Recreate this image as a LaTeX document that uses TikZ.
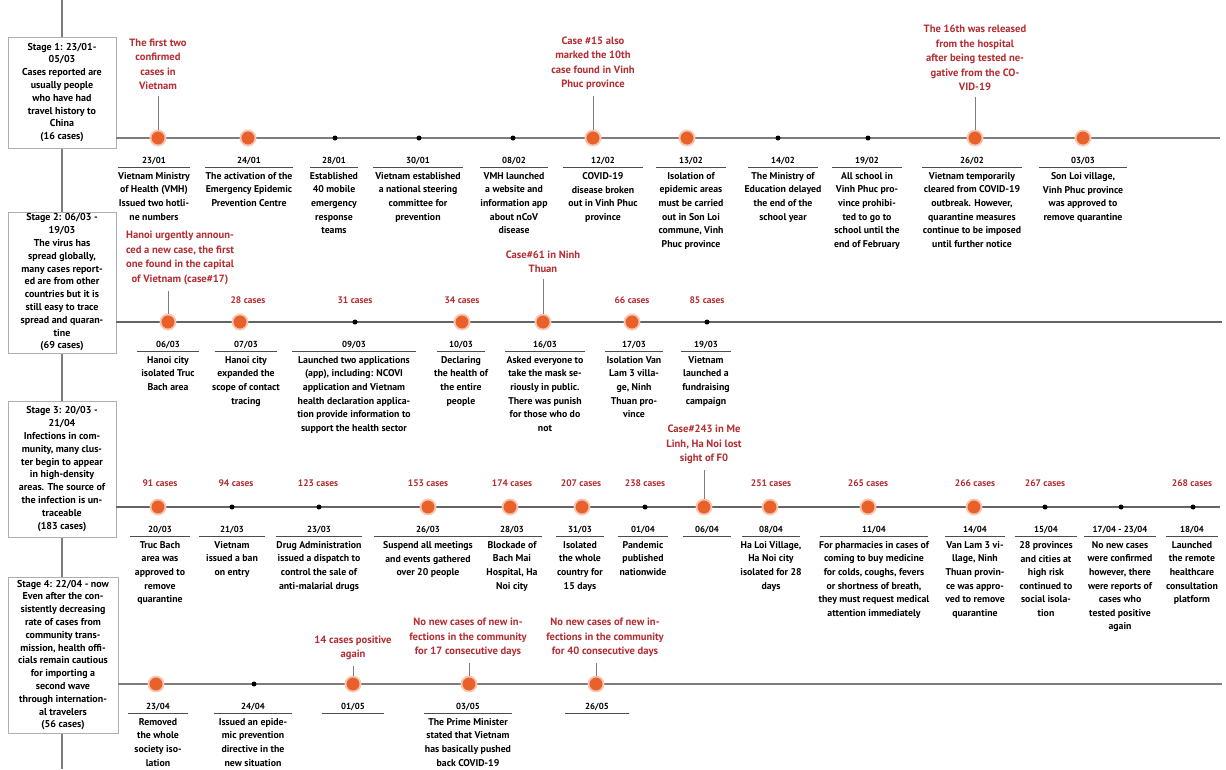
\documentclass[tikz,border=0pt]{standalone}
\usepackage{fontspec}
\setmainfont{PT Sans}
\usetikzlibrary{positioning}
\definecolor{dotorange}{RGB}{232,96,42}
\definecolor{notered}{RGB}{180,45,50}
\definecolor{linegray}{RGB}{125,125,125}
\definecolor{boxgray}{RGB}{175,175,175}
\tikzset{
  bigdot/.style={circle, fill=dotorange, draw=dotorange!35, line width=1.8pt, minimum size=15pt, inner sep=0pt},
  smalldot/.style={circle, fill=black, minimum size=5pt, inner sep=0pt},
  datelabel/.style={anchor=base, text depth=0pt, inner xsep=0pt, inner ysep=4pt, font=\fontsize{8.8}{10}\selectfont\bfseries},
  desclabel/.style={align=center, inner sep=0pt, font=\fontsize{9.8}{13.6}\selectfont\bfseries},
  underline/.style={draw=black!70, line width=0.9pt},
  note/.style={align=center, anchor=south, text=notered, inner sep=0pt, font=\fontsize{10.6}{14.5}\selectfont\bfseries},
  cases/.style={text=notered, inner sep=0pt, font=\fontsize{9.5}{10}\selectfont\bfseries},
  stem/.style={draw=linegray, line width=1pt, shorten <=6pt},
  spine/.style={draw=linegray, line width=1.6pt},
  thickline/.style={draw=linegray, line width=2.6pt},
  thinline/.style={draw=linegray!80!black, line width=1.4pt},
  stagebox/.style={draw=boxgray, fill=white, line width=0.8pt, align=center, inner sep=0pt, font=\fontsize{10}{12.8}\selectfont\bfseries},
}
\newcommand{\tlevent}[8]{%
  \node[#4] (#1) at (#2,#3) {};
  \node[datelabel, minimum width=#7] (#1-date) at (#6,#3+25) {#5};
  \draw[underline] (#1-date.south west) -- (#1-date.south east);
  \node[desclabel, below=5pt of #1-date] (#1-text) {#8};
}

\begin{document}
\begin{tikzpicture}[x=1pt,y=-1pt]
        \useasboundingbox[fill=white] (0,0) rectangle (1226,769);
        \coordinate (spinetop) at (62,0);
        \coordinate (spinebottom) at (62,769);
        \draw[spine] (spinetop) -- (spinebottom);

        \node[stagebox, minimum width=108, minimum height=111] (stage1) at (62,92.5) {Stage 1: 23/01-\\05/03\\Cases reported are\\usually people\\who have had\\travel history to\\China\\(16 cases)};
        \node[stagebox, minimum width=108, minimum height=141] (stage2) at (62,282.5) {Stage 2: 06/03 -\\19/03\\The virus has\\spread globally,\\many cases report-\\ed are from other\\countries but it is\\still easy to trace\\spread and quaran-\\tine\\(69 cases)};
        \node[stagebox, minimum width=108, minimum height=136] (stage3) at (62,469) {Stage 3: 20/03 -\\21/04\\Infections in com-\\munity, many clus-\\ter begin to appear\\in high-density\\areas. The source of\\the infection is un-\\traceable\\(183 cases)};
        \node[stagebox, minimum width=110, minimum height=156] (stage4) at (63,655) {Stage 4: 22/04 - now\\Even after the con-\\sistently decreasing\\rate of cases from\\community trans-\\mission, health offi-\\cials remain cautious\\for importing a\\second wave\\through internation-\\al travelers\\(56 cases)};

        \coordinate (end1) at (1220,138);
        \coordinate (end2) at (1222,322);
        \coordinate (end3) at (1220,507);
        \coordinate (end4) at (1222,684);
        \draw[thickline] (stage1.east |- end1) -- (end1);
        \draw[thinline] (stage2.east |- end2) -- (end2);
        \draw[thinline] (stage3.east |- end3) -- (end3);
        \draw[thickline] (stage4.east |- end4) -- (end4);

        \tlevent{e2301}{158}{138}{bigdot}{23/01}{154}{72}{Vietnam Ministry\\of Health (VMH)\\Issued two hotli-\\ne numbers}
        \tlevent{e2401}{248}{138}{bigdot}{24/01}{249}{88}{The activation of the\\Emergency  Epidemic\\Prevention Centre}
        \tlevent{e2801}{335}{138}{smalldot}{28/01}{334}{48}{Established\\40 mobile\\emergency\\response\\teams}
        \tlevent{e3001}{419}{138}{smalldot}{30/01}{418}{90}{Vietnam established\\a national steering\\committee for\\prevention}
        \tlevent{e0802}{513}{138}{smalldot}{08/02}{514}{68}{VMH launched\\a website and\\information app\\about nCoV\\disease}
        \tlevent{e1202}{593}{138}{bigdot}{12/02}{603}{79}{COVID-19\\disease broken\\out in Vinh Phuc\\province}
        \tlevent{e1302}{687}{138}{bigdot}{13/02}{691}{69}{Isolation of\\epidemic areas\\must be carried\\out in Son Loi\\commune, Vinh\\Phuc province}
        \tlevent{e1402}{778}{138}{smalldot}{14/02}{783}{70}{The Ministry of\\Education delayed\\the end of the\\school year}
        \tlevent{e1902}{868}{138}{smalldot}{19/02}{867}{70}{All school in\\Vinh Phuc pro-\\vince prohibi-\\ted to go to\\school until the\\end of February}
        \tlevent{e2602}{975}{138}{bigdot}{26/02}{972}{100}{Vietnam temporarily\\cleared from COVID-19\\outbreak. However,\\quarantine measures\\continue to be imposed\\until further notice}
        \tlevent{e0303}{1083}{138}{bigdot}{03/03}{1083}{87}{Son Loi village,\\Vinh Phuc province\\was approved to\\remove quarantine}

        \tlevent{e0603}{168}{322}{bigdot}{06/03}{168}{62}{Hanoi city\\isolated Truc\\Bach area}
        \tlevent{e0703}{240}{322}{bigdot}{07/03}{246}{62}{Hanoi city\\expanded the\\scope of contact\\tracing}
        \tlevent{e0903}{355}{322}{smalldot}{09/03}{354}{123}{Launched two applications\\(app), including: NCOVI\\application and Vietnam\\health declaration applica-\\tion provide information to\\support the health sector}
        \tlevent{e1003}{462}{322}{bigdot}{10/03}{461}{48}{Declaring\\the health of\\the entire\\people}
        \tlevent{e1603}{543}{322}{bigdot}{16/03}{545}{79}{Asked everyone to\\take the mask se-\\riously in public.\\There was punish\\for those who do\\not}
        \tlevent{e1703}{632}{322}{bigdot}{17/03}{634}{58}{Isolation Van\\Lam 3 villa-\\ge, Ninh\\Thuan pro-\\vince}
        \tlevent{e1903}{707}{322}{smalldot}{19/03}{706}{50}{Vietnam\\launched a\\fundraising\\campaign}

        \tlevent{e2003}{158}{507}{bigdot}{20/03}{160}{60}{Truc Bach\\area was\\approved to\\remove\\quarantine}
        \tlevent{e2103}{232}{507}{smalldot}{21/03}{232}{65}{Vietnam\\issued a ban\\on entry}
        \tlevent{e2303}{319}{507}{smalldot}{23/03}{319}{85}{Drug Administration\\issued a dispatch to\\control the sale of\\anti-malarial drugs}
        \tlevent{e2603}{428}{507}{bigdot}{26/03}{428}{108}{Suspend all meetings\\and events gathered\\over 20 people}
        \tlevent{e2803}{510}{507}{bigdot}{28/03}{512}{60}{Blockade of\\Bach Mai\\Hospital, Ha\\Noi city}
        \tlevent{e3103}{582}{507}{bigdot}{31/03}{580}{47}{Isolated\\the whole\\country for\\15 days}
        \tlevent{e0104}{645}{507}{smalldot}{01/04}{643}{50}{Pandemic\\published\\nationwide}
        \tlevent{e0604}{704}{507}{bigdot}{06/04}{707}{47}{}
        \tlevent{e0804}{770}{507}{bigdot}{08/04}{771}{58}{Ha Loi Village,\\Ha Noi city\\isolated for 28\\days}
        \tlevent{e1104}{868}{507}{bigdot}{11/04}{874}{108}{For pharmacies in cases of\\coming to buy medicine\\for colds, coughs, fevers\\or shortness of breath,\\they must request medical\\attention immediately}
        \tlevent{e1404}{974}{507}{bigdot}{14/04}{975}{60}{Van Lam 3 vi-\\llage, Ninh\\Thuan provin-\\ce was appro-\\ved to remove\\quarantine}
        \tlevent{e1504}{1045}{507}{smalldot}{15/04}{1046}{62}{28 provinces\\and cities at\\high risk\\continued to\\social isola-\\tion}
        \tlevent{e1704}{1121}{507}{smalldot}{17/04 - 23/04}{1120}{71}{No new cases\\were confirmed\\however, there\\were reports of\\cases who\\tested positive\\again}
        \tlevent{e1804}{1193}{507}{smalldot}{18/04}{1192}{52}{Launched\\the remote\\healthcare\\consultation\\platform}

        \tlevent{e2304}{156}{684}{bigdot}{23/04}{158}{60}{Removed\\the whole\\society iso-\\lation}
        \tlevent{e2404}{254}{684}{smalldot}{24/04}{253}{77}{Issued an epide-\\mic prevention\\directive in the\\new situation}
        \tlevent{e0105}{353}{684}{bigdot}{01/05}{353}{61}{}
        \tlevent{e0305}{469}{684}{bigdot}{03/05}{468}{87}{The Prime Minister\\stated that Vietnam\\has basically pushed\\back COVID-19}
        \tlevent{e2605}{596}{684}{bigdot}{26/05}{597}{63}{}

        \node[note] (n2301) at (158,90) {The first two\\confirmed\\cases in\\Vietnam};
        \node[note] (n1202) at (593,90) {Case \#15 also\\marked the 10th\\case found in Vinh\\Phuc province};
        \node[note] (n2602) at (975,91) {The 16th was released\\from the hospital\\after being tested ne-\\gative from the CO-\\VID-19};
        \node[note] (n0603) at (180,285) {Hanoi urgently announ-\\ced a new case, the first\\one found in the capital\\of Vietnam (case\#17)};
        \node[note] (n1603) at (543,273) {Case\#61 in Ninh\\Thuan};
        \node[note] (n0604) at (704,464) {Case\#243 in Me\\Linh, Ha Noi lost\\sight of F0};
        \node[note] (n0105) at (353,660) {14 cases positive\\again};
        \node[note] (n0305) at (468,657) {No new cases of new in-\\fections in the community\\for 17 consecutive days};
        \node[note] (n2605) at (605,657) {No new cases of new in-\\fections in the community\\for 40 consecutive days};
        \draw[stem] (n2301.south -| e2301) -- (e2301);
        \draw[stem] (n1202.south -| e1202) -- (e1202);
        \draw[stem] (n2602.south -| e2602) -- (e2602);
        \draw[stem] (n0603.south -| e0603) -- (e0603);
        \draw[stem] (n1603.south -| e1603) -- (e1603);
        \draw[stem] (n0604.south -| e0604) -- (e0604);
        \draw[stem] (n0105.south -| e0105) -- (e0105);
        \draw[stem] (n0305.south -| e0305) -- (e0305);
        \draw[stem] (n2605.south -| e2605) -- (e2605);

        \node[cases] (c0703) at (248,300) {28 cases};
        \node[cases] (c0903) at (355,300) {31 cases};
        \node[cases] (c1003) at (462,300) {34 cases};
        \node[cases] (c1703) at (632,300) {66 cases};
        \node[cases] (c1903) at (707,300) {85 cases};
        \node[cases] (c2003) at (160,483) {91 cases};
        \node[cases] (c2103) at (236,483) {94 cases};
        \node[cases] (c2303) at (318,483) {123 cases};
        \node[cases] (c2603) at (428,483) {153 cases};
        \node[cases] (c2803) at (512,483) {174 cases};
        \node[cases] (c3103) at (581,483) {207 cases};
        \node[cases] (c0104) at (645,483) {238 cases};
        \node[cases] (c0804) at (771,483) {251 cases};
        \node[cases] (c1104) at (868,483) {265 cases};
        \node[cases] (c1404) at (975,483) {266 cases};
        \node[cases] (c1504) at (1045,483) {267 cases};
        \node[cases] (c1804) at (1192,483) {268 cases};
    \end{tikzpicture}
\end{document}
